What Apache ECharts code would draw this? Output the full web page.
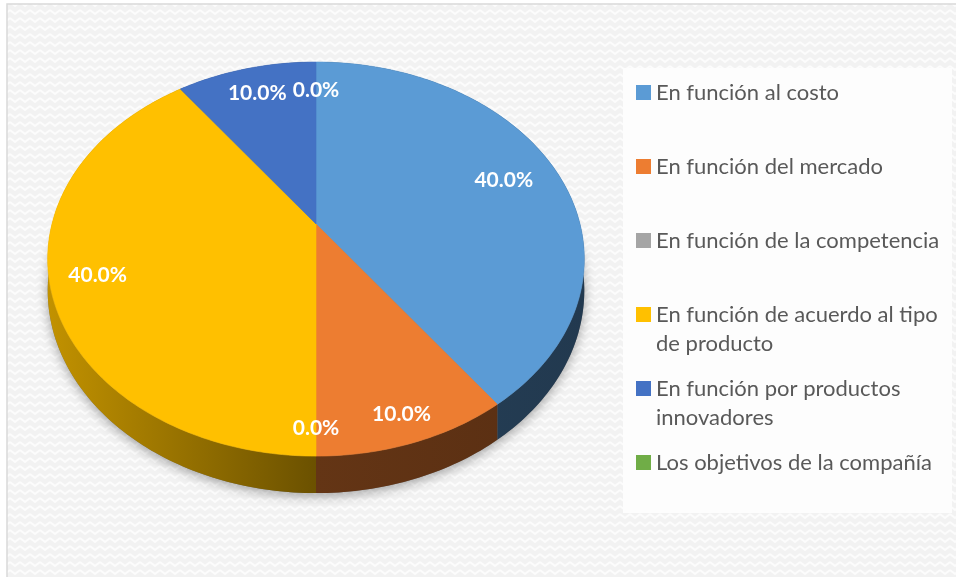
<!DOCTYPE html>
<html>
<head>
<meta charset="utf-8">
<script src="https://cdn.jsdelivr.net/npm/echarts@6/dist/echarts.min.js"></script>
<style>
  html, body { margin: 0; padding: 0; background: #fff; }
  #chart { width: 956px; height: 577px; }
</style>
</head>
<body>
<div id="chart"></div>
<script>
// Data
const categories = [
  'En función al costo',
  'En función del mercado',
  'En función de la competencia',
  'En función de acuerdo al tipo de producto',
  'En función por productos innovadores',
  'Los objetivos de la compañía'
]
const legendLabels = [
  'En función al costo',
  'En función del mercado',
  'En función de la competencia',
  'En función de acuerdo al tipo\nde producto',
  'En función por productos\ninnovadores',
  'Los objetivos de la compañía'
]
const shares = [40, 10, 0, 40, 10, 0]

// Styles
const colors = ['#5B9BD5', '#ED7D31', '#A5A5A5', '#FFC000', '#4472C4', '#70AD47']
const labelRadius = [0.78, 0.89, 0.9, 0.83, 0.82, 0.8]

const total = shares.reduce((a, b) => a + b, 0)
const starts = shares.map((v, i) => shares.slice(0, i).reduce((a, b) => a + b, 0))

// perspective projection of the tilted pie
const CX = 316, CY = 224, RX = 264, RY = 190.8, PERSP = 0.178, DEPTH = 30.4

const project = (r, theta, depth) => {
  const X = r * Math.sin(theta)
  const Z = r * Math.cos(theta)
  const d = 1 + PERSP * Z
  return [CX + RX * X / d, CY - RY * Z / d + depth * DEPTH / d]
}

const shade = (hex, f) => {
  const n = parseInt(hex.slice(1), 16)
  const r = Math.round(((n >> 16) & 255) * f)
  const g = Math.round(((n >> 8) & 255) * f)
  const b = Math.round((n & 255) * f)
  return 'rgb(' + r + ',' + g + ',' + b + ')'
}

const sideFill = (hex) => new echarts.graphic.LinearGradient(CX - RX * 1.02, 0, CX + RX * 1.02, 0, [
  { offset: 0, color: shade(hex, 0.76) },
  { offset: 0.5, color: shade(hex, 0.42) },
  { offset: 1, color: shade(hex, 0.37) }
], true)

const makeRenderItem = (idx) => (params, api) => {
  const value = api.value(0)
  const before = api.value(1)
  const a0 = before / total * 2 * Math.PI
  const a1 = (before + value) / total * 2 * Math.PI
  const color = api.visual('color')
  const children = []

  if (idx === 0) {
    // soft shadow under the whole pie
    const base = []
    for (let s = 0; s <= 360; s += 2) base.push(project(1, s * Math.PI / 180, 1))
    children.push({
      type: 'polygon', z2: 0, silent: true,
      shape: { points: base },
      style: { fill: '#777', shadowBlur: 12, shadowColor: 'rgba(0,0,0,0.35)', shadowOffsetY: 3 }
    })
  }

  if (value > 0) {
    const steps = Math.max(2, Math.ceil((a1 - a0) / (Math.PI / 180)))
    const top = [], bottom = []
    for (let s = 0; s <= steps; s++) {
      const t = a0 + (a1 - a0) * s / steps
      top.push(project(1, t, 0))
      bottom.push(project(1, t, 1))
    }
    children.push({
      type: 'polygon', z2: 10,
      shape: { points: top.concat(bottom.slice().reverse()) },
      style: { fill: sideFill(color), stroke: null }
    })
    children.push({
      type: 'polygon', z2: 50,
      shape: { points: [project(0, 0, 0)].concat(top) },
      style: { fill: color, stroke: color, lineWidth: 0.6 }
    })
  }

  const mid = (a0 + a1) / 2
  const p = project(labelRadius[idx], mid, 0)
  children.push({
    type: 'text', z2: 90, x: p[0], y: p[1],
    style: {
      text: value.toFixed(1) + '%',
      fill: '#fff',
      font: 'bold 21px Lato',
      align: 'center',
      verticalAlign: 'middle'
    }
  })
  return { type: 'group', children }
}

// background weave pattern
const pat = document.createElement('canvas')
pat.width = 10
pat.height = 8
const pctx = pat.getContext('2d')
pctx.fillStyle = '#F2F2F2'
pctx.fillRect(0, 0, 10, 8)
pctx.strokeStyle = '#FCFCFC'
pctx.lineWidth = 2
pctx.beginPath()
pctx.moveTo(0, 2); pctx.lineTo(5, 6); pctx.lineTo(10, 2)
pctx.stroke()

const chart = echarts.init(document.getElementById('chart'))

// wrapped legend entries get an empty first line so the icon sits on the first text line
const option = {
  animation: false,
  backgroundColor: '#fff',
  graphic: [
    {
      type: 'rect', z: -10, silent: true,
      shape: { x: 7, y: 4, width: 960, height: 590 },
      style: { fill: { image: pat, repeat: 'repeat' }, stroke: '#D9D9D9', lineWidth: 1.5 }
    },
    {
      type: 'rect', z: -9, silent: true,
      shape: { x: 623, y: 68, width: 329, height: 445 },
      style: { fill: '#FDFDFD' }
    }
  ],
  legend: categories.map((name, i) => {
    const wrapped = legendLabels[i].includes('\n')
    return {
      data: [name],
      left: 631,
      top: 92.5 + 74 * i - 5 - (wrapped ? 43.5 : 14.5),
      icon: 'rect',
      itemWidth: 15,
      itemHeight: 15,
      selectedMode: false,
      formatter: () => (wrapped ? '\n' : '') + legendLabels[i],
      textStyle: {
        fontFamily: 'Lato',
        fontSize: 22,
        color: '#595959',
        lineHeight: 29
      }
    }
  }),
  series: categories.map((name, i) => ({
    type: 'custom',
    name: name,
    coordinateSystem: 'none',
    itemStyle: { color: colors[i] },
    renderItem: makeRenderItem(i),
    data: [[shares[i], starts[i]]]
  }))
}

chart.setOption(option)
</script>
</body>
</html>
